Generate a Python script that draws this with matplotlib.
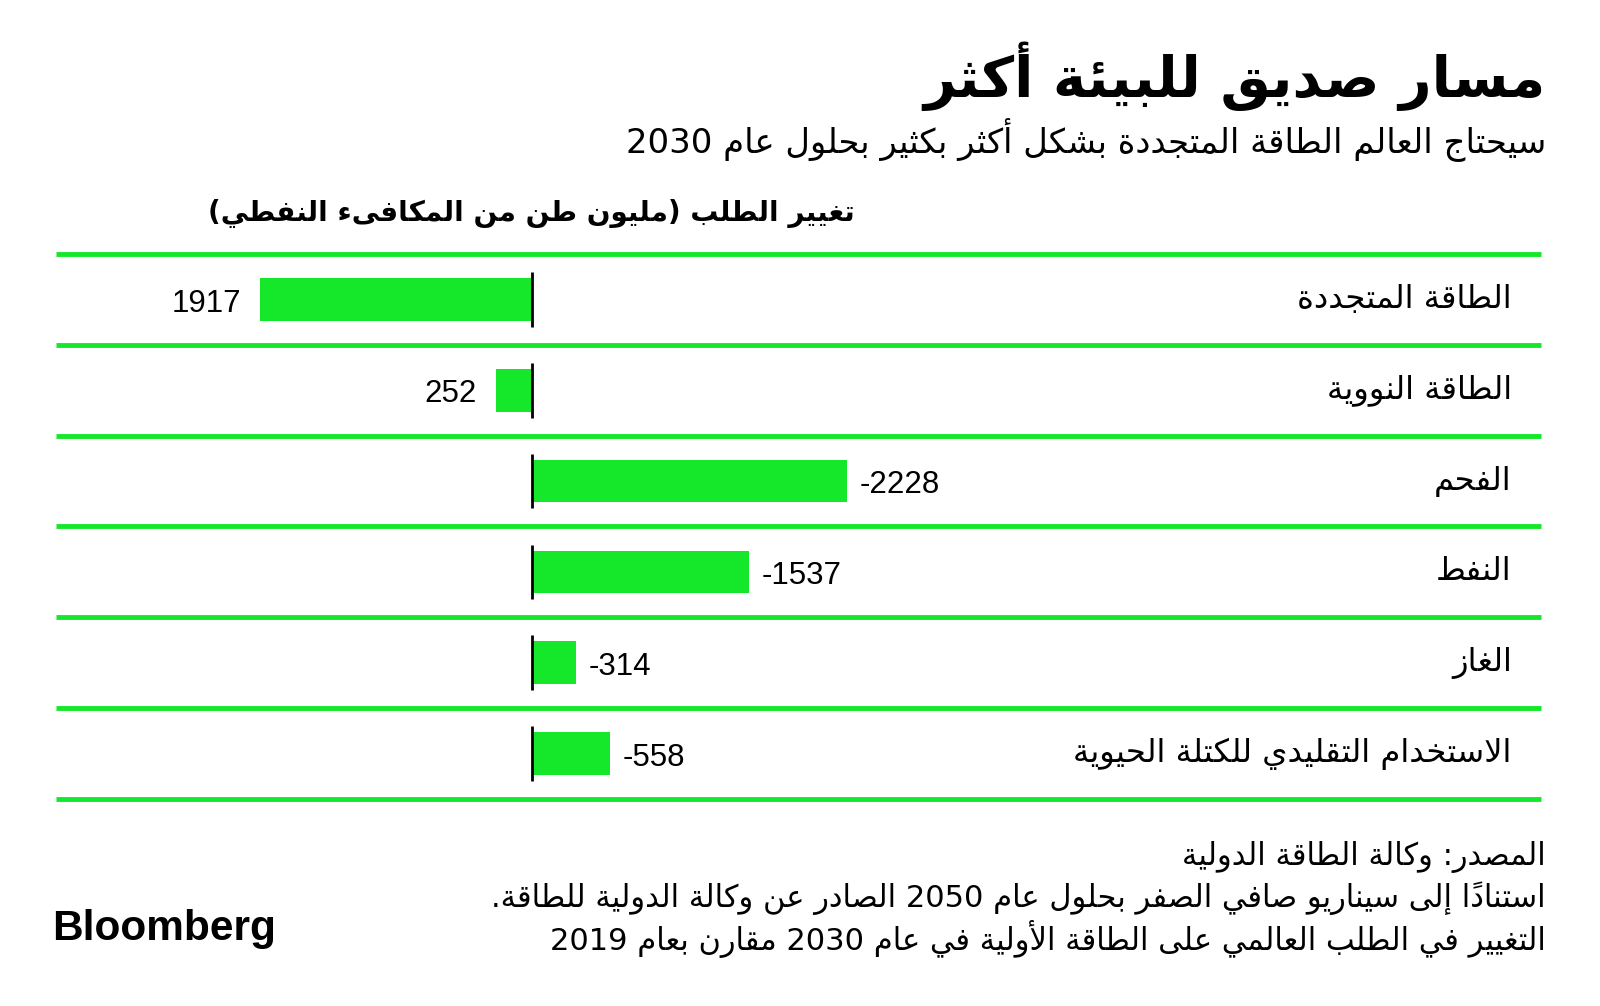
import matplotlib
matplotlib.use("Agg")
import matplotlib.pyplot as plt
from matplotlib.transforms import blended_transform_factory

#%%
# chart data
categories = ['الطاقة المتجددة', 'الطاقة النووية', 'الفحم', 'النفط', 'الغاز',
              'الاستخدام التقليدي للكتلة الحيوية']
values = [1917, 252, -2228, -1537, -314, -558]

title = 'مسار صديق للبيئة أكثر'
subtitle = 'سيحتاج العالم الطاقة المتجددة بشكل أكثر بكثير بحلول عام 2030'
axis_title = 'تغيير الطلب (مليون طن من المكافىء النفطي)'
footer_lines = ['المصدر: وكالة الطاقة الدولية',
                'استناداً إلى سيناريو صافي الصفر بحلول عام 2050 الصادر عن وكالة الدولية للطاقة.',
                'التغيير في الطلب العالمي على الطاقة الأولية في عام 2030 مقارن بعام 2019']
brand = 'Bloomberg'

#%%
# matplotlib has no arabic shaping, so do it by hand with presentation forms
FORMS = {}
_letters = [('ء', 1), ('آ', 2), ('أ', 2), ('ؤ', 2), ('إ', 2), ('ئ', 4), ('ا', 2), ('ب', 4),
            ('ة', 2), ('ت', 4), ('ث', 4), ('ج', 4), ('ح', 4), ('خ', 4), ('د', 2), ('ذ', 2),
            ('ر', 2), ('ز', 2), ('س', 4), ('ش', 4), ('ص', 4), ('ض', 4), ('ط', 4), ('ظ', 4),
            ('ع', 4), ('غ', 4), ('ف', 4), ('ق', 4), ('ك', 4), ('ل', 4), ('م', 4), ('ن', 4),
            ('ه', 4), ('و', 2), ('ى', 2), ('ي', 4)]
_code = 0xFE80
for _ch, _n in _letters:
    FORMS[_ch] = [chr(_code + k) for k in range(_n)]   # iso, fin, ini, med
    _code += _n
LAM_ALEF = {'آ': 0xFEF5, 'أ': 0xFEF7, 'إ': 0xFEF9, 'ا': 0xFEFB}
MIRROR = {'(': ')', ')': '('}


def is_mark(ch):
    return 0x064B <= ord(ch) <= 0x065F or ord(ch) == 0x0670


def rtl(text):
    clusters = []
    for ch in text:
        if is_mark(ch) and clusters:
            clusters[-1] += ch
        else:
            clusters.append(ch)
    shaped = []
    n = len(clusters)
    i = 0
    while i < n:
        base, marks = clusters[i][0], clusters[i][1:]
        if base not in FORMS:
            shaped.append(MIRROR.get(clusters[i], clusters[i]))
            i += 1
            continue
        prev = clusters[i - 1][0] if i > 0 else ''
        nxt = clusters[i + 1][0] if i + 1 < n else ''
        jp = len(FORMS.get(prev, [])) == 4 and len(FORMS[base]) > 1
        if base == 'ل' and nxt in LAM_ALEF:
            shaped.append(chr(LAM_ALEF[nxt] + (1 if jp else 0)) + marks + clusters[i + 1][1:])
            i += 2
            continue
        jn = len(FORMS[base]) == 4 and len(FORMS.get(nxt, [])) > 1
        k = 3 if (jp and jn) else 1 if jp else 2 if jn else 0
        shaped.append(FORMS[base][k] + marks)
        i += 1
    # visual order: reverse everything but keep digit runs left-to-right
    runs = []
    for c in shaped:
        if c.isdigit() and runs and runs[-1][0].isdigit():
            runs[-1] += c
        else:
            runs.append(c)
    return ''.join(reversed(runs))


#%%
ARABIC = 'DejaVu Sans'
GREEN = '#15e82a'
NUMFONT = 'Liberation Sans'

fig = plt.figure(figsize=(16, 10.06), dpi=100)
fig.patch.set_facecolor('white')

ax = fig.add_axes([0.035, 0.2058, 0.928, 0.5417])
ax.set_xlim(3361, -7134)
ax.set_ylim(len(categories), 0)
ax.axis('off')

rows = [i + 0.5 for i in range(len(categories))]
ax.barh(rows, values, height=0.47, color=GREEN, zorder=2)
ax.vlines([0] * len(rows), [r - 0.3 for r in rows], [r + 0.3 for r in rows],
          color='black', lw=2, zorder=3)
ax.hlines(range(len(categories) + 1), 3361, -7134, color=GREEN, lw=3.5, zorder=1,
          clip_on=False)

tr = blended_transform_factory(ax.transAxes, ax.transData)
for r, cat, v in zip(rows, categories, values):
    ax.text(0.9805, r, rtl(cat), transform=tr, ha='right', va='center',
            fontsize=23.2, family=ARABIC)
    if v >= 0:
        ax.annotate(str(v), (v, r), xytext=(-14, -3), textcoords='offset points',
                    ha='right', va='center', fontsize=22.5, family=NUMFONT)
    else:
        ax.annotate(str(v), (v, r), xytext=(9, -3), textcoords='offset points',
                    ha='left', va='center', fontsize=22.5, family=NUMFONT)

fig.text(1546 / 1600, 1 - 76 / 1006, rtl(title), ha='right', va='center',
         fontsize=40.6, fontweight='bold', family=ARABIC)
fig.text(1546 / 1600, 1 - 139 / 1006, rtl(subtitle), ha='right', va='center',
         fontsize=24.4, family=ARABIC)
fig.text(855 / 1600, 1 - 214 / 1006, rtl(axis_title), ha='right', va='center',
         fontsize=20.1, fontweight='bold', family=ARABIC)

for k, line in enumerate(footer_lines):
    fig.text(1546 / 1600, 1 - (857 + 41 * k) / 1006, rtl(line), ha='right', va='center',
             fontsize=22, family=ARABIC)

fig.text(52 / 1600, 1 - 929 / 1006, brand, ha='left', va='center',
         fontsize=30.5, fontweight='heavy', family='Liberation Sans')

fig.savefig('out.png', dpi=100, facecolor='white')
